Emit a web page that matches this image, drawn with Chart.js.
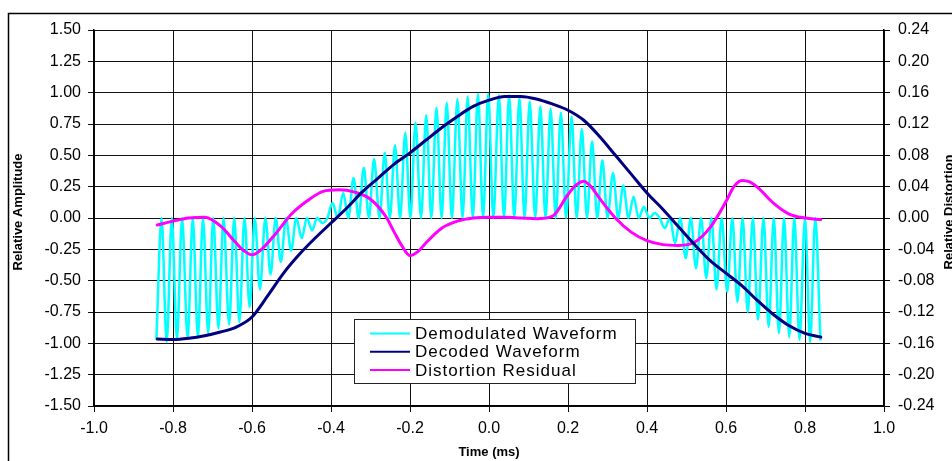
<!DOCTYPE html>
<html>
<head>
<meta charset="utf-8">
<script src="https://cdn.jsdelivr.net/npm/chart.js@4.4.1/dist/chart.umd.min.js"></script>
<style>
  html, body { margin: 0; padding: 0; background: #fff; }
  canvas { display: block; }
</style>
</head>
<body>
<canvas id="chart" width="952" height="461"></canvas>
<script>
// Demodulated waveform: carrier peaks and the zero-side troughs between them (ms, relative amplitude)
const demodTime = [
  -0.842, -0.829, -0.816, -0.803, -0.790, -0.777, -0.763, -0.750, -0.737, -0.724,
  -0.711, -0.698, -0.685, -0.672, -0.658, -0.645, -0.632, -0.619, -0.606, -0.593,
  -0.580, -0.566, -0.553, -0.540, -0.527, -0.514, -0.501, -0.488, -0.474, -0.461,
  -0.448, -0.435, -0.422, -0.409, -0.396, -0.383, -0.369, -0.356, -0.343, -0.330,
  -0.317, -0.304, -0.291, -0.277, -0.264, -0.251, -0.238, -0.225, -0.212, -0.199,
  -0.186, -0.172, -0.159, -0.146, -0.133, -0.120, -0.107, -0.094, -0.080, -0.067,
  -0.054, -0.041, -0.028, -0.015, -0.002, 0.011, 0.025, 0.038, 0.051, 0.064,
  0.077, 0.090, 0.103, 0.117, 0.130, 0.143, 0.156, 0.169, 0.182, 0.195,
  0.209, 0.222, 0.235, 0.248, 0.261, 0.274, 0.287, 0.300, 0.314, 0.327,
  0.340, 0.353, 0.366, 0.379, 0.392, 0.406, 0.419, 0.432, 0.445, 0.458,
  0.471, 0.484, 0.498, 0.511, 0.524, 0.537, 0.550, 0.563, 0.576, 0.589,
  0.603, 0.616, 0.629, 0.642, 0.655, 0.668, 0.681, 0.695, 0.708, 0.721,
  0.734, 0.747, 0.760, 0.773, 0.786, 0.800, 0.813, 0.826, 0.839
];
const demodValue = [
  -0.96, 0, -0.99, 0, -0.97, 0, -0.96, 0, -0.95, 0,
  -0.92, 0, -0.88, 0, -0.85, 0, -0.83, 0, -0.71, 0,
  -0.57, 0, -0.45, 0, -0.35, 0, -0.26, 0, -0.16, 0,
  -0.10, 0, -0.04, 0, 0.12, 0, 0.20, 0, 0.32, 0,
  0.40, 0, 0.47, 0, 0.52, 0, 0.58, 0, 0.68, 0,
  0.76, 0, 0.82, 0, 0.88, 0, 0.92, 0, 0.95, 0,
  0.97, 0, 0.99, 0, 0.99, 0, 0.98, 0, 0.98, 0,
  0.96, 0, 0.93, 0, 0.89, 0, 0.87, 0, 0.84, 0,
  0.81, 0, 0.71, 0, 0.61, 0, 0.46, 0, 0.36, 0,
  0.26, 0, 0.17, 0, 0.09, 0, 0.04, 0, -0.08, 0,
  -0.20, 0, -0.32, 0, -0.40, 0, -0.48, 0, -0.57, 0,
  -0.59, 0, -0.67, 0, -0.75, 0, -0.81, 0, -0.87, 0,
  -0.92, 0, -0.95, 0, -0.97, 0, -0.99, 0, -0.97
];

// Decoded waveform (left axis)
const decodedTime = [
  -0.84, -0.80, -0.76, -0.72, -0.68, -0.64, -0.60, -0.56, -0.52, -0.48,
  -0.44, -0.40, -0.36, -0.32, -0.28, -0.24, -0.20, -0.16, -0.12, -0.08,
  -0.04, 0.00, 0.04, 0.08, 0.12, 0.16, 0.20, 0.24, 0.28, 0.32,
  0.36, 0.40, 0.44, 0.48, 0.52, 0.56, 0.60, 0.64, 0.68, 0.72,
  0.76, 0.80, 0.84
];
const decodedValue = [
  -0.965, -0.97, -0.96, -0.94, -0.91, -0.87, -0.79, -0.62, -0.44, -0.29,
  -0.16, -0.04, 0.08, 0.21, 0.32, 0.43, 0.52, 0.62, 0.72, 0.81,
  0.89, 0.94, 0.97, 0.97, 0.95, 0.91, 0.86, 0.78, 0.65, 0.50,
  0.35, 0.20, 0.07, -0.07, -0.21, -0.34, -0.44, -0.54, -0.66, -0.77,
  -0.86, -0.92, -0.95
];

// Distortion residual (right axis)
const residualTime = [
  -0.84, -0.80, -0.76, -0.72, -0.68, -0.64, -0.62, -0.60, -0.58, -0.54,
  -0.50, -0.46, -0.42, -0.38, -0.34, -0.30, -0.26, -0.24, -0.22, -0.20,
  -0.18, -0.16, -0.12, -0.08, -0.04, 0.00, 0.04, 0.08, 0.12, 0.16,
  0.20, 0.22, 0.24, 0.26, 0.28, 0.32, 0.36, 0.40, 0.44, 0.48,
  0.52, 0.56, 0.60, 0.62, 0.64, 0.66, 0.68, 0.72, 0.76, 0.80,
  0.84
];
const residualValue = [
  -0.009, -0.004, 0.000, 0.001, -0.010, -0.032, -0.042, -0.047, -0.042, -0.020,
  0.005, 0.022, 0.034, 0.036, 0.033, 0.024, 0.001, -0.018, -0.036, -0.048,
  -0.043, -0.032, -0.013, -0.004, 0.000, 0.001, 0.001, 0.000, -0.001, 0.002,
  0.030, 0.042, 0.047, 0.039, 0.025, 0.000, -0.018, -0.029, -0.034, -0.035,
  -0.031, -0.012, 0.021, 0.040, 0.048, 0.046, 0.039, 0.019, 0.005, 0.000,
  -0.002
];

const seriesNames = ['Demodulated Waveform', 'Decoded Waveform', 'Distortion Residual'];
const seriesColors = ['#00FFFF', '#000080', '#FF00FF'];

const xTicks = { min: -1.0, max: 1.0, step: 0.2 };
const yTicks = { min: -1.5, max: 1.5, step: 0.25 };
const y2Ticks = { min: -0.24, max: 0.24, step: 0.04 };

const FONT = "'Liberation Sans', Arial, sans-serif";

function toPoints(xs, ys) {
  return xs.map((x, i) => ({ x: x, y: ys[i] }));
}
function fmt(v, d) {
  if (Math.abs(v) < 1e-9) v = 0;
  return v.toFixed(d);
}

const framePlugin = {
  id: 'frame',
  beforeDraw(chart) {
    const ctx = chart.ctx;
    ctx.save();
    ctx.fillStyle = '#fff';
    ctx.fillRect(0, 0, chart.width, chart.height);
    ctx.strokeStyle = '#000';
    ctx.lineWidth = 1.5;
    ctx.strokeRect(8.5, 13.5, chart.width + 20, chart.height + 20);
    ctx.restore();
  },
  afterDraw(chart) {
    const ctx = chart.ctx;
    const area = chart.chartArea;
    ctx.save();
    // axis titles
    ctx.fillStyle = '#000';
    ctx.font = 'bold 13px ' + FONT;
    ctx.textAlign = 'center';
    ctx.textBaseline = 'middle';
    ctx.fillText('Time (ms)', (area.left + area.right) / 2, 452);
    ctx.save();
    ctx.translate(18, 212);
    ctx.rotate(-Math.PI / 2);
    ctx.fillText('Relative Amplitude', 0, 0);
    ctx.restore();
    ctx.save();
    ctx.translate(949, 212);
    ctx.rotate(-Math.PI / 2);
    ctx.fillText('Relative Distortion', 0, 0);
    ctx.restore();

    // legend box inside the plot
    const bx = 354.5, by = 319.5, bw = 281, bh = 64;
    ctx.fillStyle = '#fff';
    ctx.fillRect(bx, by, bw, bh);
    ctx.strokeStyle = '#222';
    ctx.lineWidth = 1;
    ctx.strokeRect(bx, by, bw, bh);
    ctx.font = '17px ' + FONT;
    ctx.textAlign = 'left';
    ctx.textBaseline = 'middle';
    ctx.letterSpacing = '1px';
    seriesNames.forEach((name, i) => {
      const y = 333.5 + i * 18.3;
      ctx.strokeStyle = seriesColors[i];
      ctx.lineWidth = 2;
      ctx.beginPath();
      ctx.moveTo(370, y);
      ctx.lineTo(410, y);
      ctx.stroke();
      ctx.fillStyle = '#000';
      ctx.fillText(name, 415, y + 1);
    });
    ctx.restore();
  }
};

new Chart(document.getElementById('chart'), {
  type: 'line',
  data: {
    datasets: [
      {
        label: seriesNames[1],
        data: toPoints(decodedTime, decodedValue),
        borderColor: seriesColors[1],
        borderWidth: 3,
        yAxisID: 'y',
        order: 1,
        cubicInterpolationMode: 'monotone'
      },
      {
        label: seriesNames[2],
        data: toPoints(residualTime, residualValue),
        borderColor: seriesColors[2],
        borderWidth: 3,
        yAxisID: 'y2',
        order: 2,
        cubicInterpolationMode: 'monotone'
      },
      {
        label: seriesNames[0],
        data: toPoints(demodTime, demodValue),
        borderColor: seriesColors[0],
        borderWidth: 2.5,
        yAxisID: 'y',
        order: 3,
        cubicInterpolationMode: 'monotone'
      }
    ]
  },
  options: {
    responsive: false,
    animation: false,
    events: [],
    elements: { point: { radius: 0 }, line: { borderCapStyle: 'round', borderJoinStyle: 'round' } },
    layout: { padding: { top: 30, left: 0, right: 0, bottom: 0 } },
    plugins: {
      legend: { display: false },
      tooltip: { enabled: false }
    },
    scales: {
      x: {
        type: 'linear',
        min: xTicks.min,
        max: xTicks.max,
        afterFit: s => { s.height = 55; },
        grid: { color: '#111', lineWidth: 1, tickLength: 6 },
        border: { color: '#000', width: 1.5 },
        ticks: {
          stepSize: xTicks.step,
          padding: 7,
          color: '#000',
          font: { family: FONT, size: 16 },
          maxRotation: 0,
          callback: v => fmt(v, 1)
        }
      },
      y: {
        type: 'linear',
        position: 'left',
        min: yTicks.min,
        max: yTicks.max,
        afterFit: s => { s.width = 94; },
        grid: { color: '#111', lineWidth: 1, tickLength: 6 },
        border: { color: '#000', width: 1.5 },
        ticks: {
          stepSize: yTicks.step,
          padding: 7,
          color: '#000',
          font: { family: FONT, size: 16 },
          callback: v => fmt(v, 2)
        }
      },
      y2: {
        type: 'linear',
        position: 'right',
        min: y2Ticks.min,
        max: y2Ticks.max,
        afterFit: s => { s.width = 68; },
        grid: { drawOnChartArea: false, color: '#000', tickLength: 6 },
        border: { color: '#000', width: 1.5 },
        ticks: {
          stepSize: y2Ticks.step,
          padding: 8,
          color: '#000',
          font: { family: FONT, size: 16 },
          callback: v => fmt(v, 2)
        }
      }
    }
  },
  plugins: [framePlugin]
});
</script>
</body>
</html>
